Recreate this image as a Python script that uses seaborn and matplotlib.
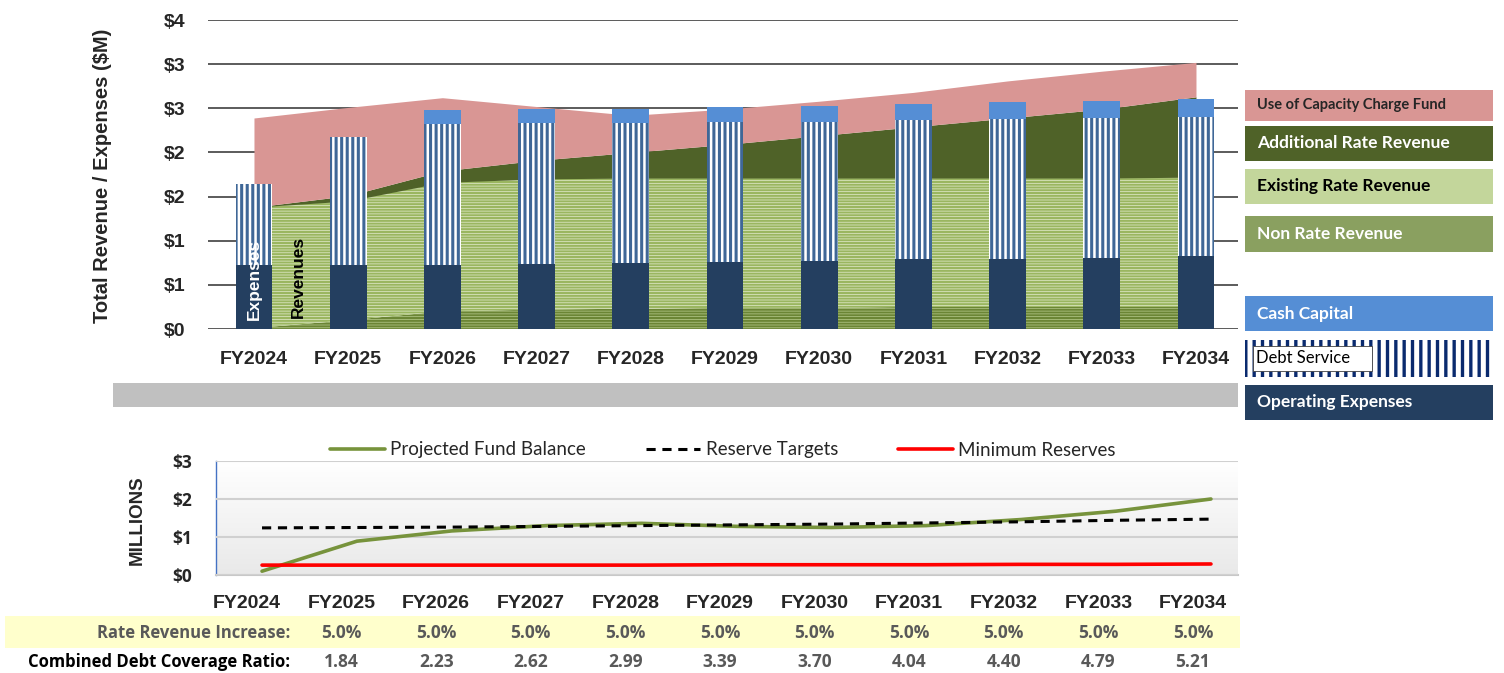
import numpy as np
import matplotlib
matplotlib.use("Agg")
import matplotlib.pyplot as plt
import seaborn as sns
from matplotlib.patches import Rectangle
from matplotlib.colors import LinearSegmentedColormap
from matplotlib.ticker import FuncFormatter

years = ["FY2024", "FY2025", "FY2026", "FY2027", "FY2028", "FY2029",
         "FY2030", "FY2031", "FY2032", "FY2033", "FY2034"]

# revenues ($M), stacked bottom to top
non_rate_revenue = [0.01, 0.10, 0.20, 0.22, 0.23, 0.24, 0.24, 0.25, 0.25, 0.25, 0.25]
existing_rate_revenue = [1.37, 1.35, 1.46, 1.48, 1.48, 1.47, 1.47, 1.46, 1.46, 1.46, 1.47]
additional_rate_revenue = [0.00, 0.06, 0.13, 0.21, 0.29, 0.38, 0.48, 0.58, 0.68, 0.78, 0.91]
capacity_charge_fund = [1.01, 1.00, 0.83, 0.61, 0.42, 0.40, 0.39, 0.39, 0.42, 0.43, 0.39]

# expenses ($M)
operating_expenses = [0.72, 0.73, 0.73, 0.74, 0.75, 0.76, 0.77, 0.79, 0.79, 0.80, 0.83]
debt_service = [0.92, 1.45, 1.59, 1.59, 1.58, 1.58, 1.58, 1.58, 1.59, 1.59, 1.57]
cash_capital = [0.00, 0.00, 0.16, 0.16, 0.16, 0.17, 0.18, 0.18, 0.19, 0.19, 0.20]

# fund balance chart ($M)
fund_balance = [0.10, 0.89, 1.16, 1.30, 1.36, 1.28, 1.25, 1.30, 1.46, 1.68, 2.00]
reserve_targets = [1.24, 1.25, 1.26, 1.28, 1.30, 1.32, 1.34, 1.37, 1.40, 1.44, 1.47]
minimum_reserves = [0.26, 0.26, 0.26, 0.26, 0.26, 0.27, 0.27, 0.27, 0.28, 0.28, 0.29]

rate_increase = ["5.0%", "5.0%", "5.0%", "5.0%", "5.0%", "5.0%", "5.0%", "5.0%", "5.0%", "5.0%"]
coverage_ratio = ["1.84", "2.23", "2.62", "2.99", "3.39", "3.70", "4.04", "4.40", "4.79", "5.21"]

W, H = 1504, 673
sns.set_theme(style="white")
plt.rcParams["font.family"] = ["Liberation Sans", "DejaVu Sans"]
TABLE_FONT = ["Open Sans", "DejaVu Sans"]
BOX_FONT = ["Lato", "DejaVu Sans"]

fig = plt.figure(figsize=(W / 100, H / 100), dpi=100)


def fx(px):
    return px / W


def fy(py):
    return 1 - py / H


# ---------------- top chart ----------------
ax = fig.add_axes([fx(208), fy(329), fx(1238 - 208), (329 - 20) / H])
idx = np.arange(len(years))

lvl1 = np.array(non_rate_revenue)
lvl2 = lvl1 + np.array(existing_rate_revenue)
lvl3 = lvl2 + np.array(additional_rate_revenue)
lvl4 = lvl3 + np.array(capacity_charge_fund)

with plt.rc_context({"hatch.linewidth": 1.5}):
    ax.fill_between(idx, 0, lvl1, facecolor="#b9cd8f", edgecolor="#6b8535",
                    hatch="------", linewidth=0, zorder=1)
    ax.fill_between(idx, lvl1, lvl2, facecolor="#e4ecd0", edgecolor="#9ab660",
                    hatch="------", linewidth=0, zorder=1)
ax.fill_between(idx, lvl2, lvl3, color="#4f6228", linewidth=0, zorder=1)
ax.fill_between(idx, lvl3, lvl4, color="#d99694", linewidth=0, zorder=1)

ops = np.array(operating_expenses)
debt_top = ops + np.array(debt_service)
cash_top = debt_top + np.array(cash_capital)

sns.barplot(x=years, y=cash_top, color="#558ed5", saturation=1, width=0.39,
            linewidth=0, ax=ax, zorder=2)
with plt.rc_context({"hatch.linewidth": 2.2}):
    sns.barplot(x=years, y=debt_top, color="white", saturation=1, width=0.39,
                linewidth=0, ax=ax, zorder=2)
    for p in ax.containers[-1]:
        p.set_facecolor("white")
        p.set_edgecolor("#3f6797")
        p.set_hatch("|||")
        p.set_linewidth(0)
sns.barplot(x=years, y=ops, color="#243f60", saturation=1, width=0.39,
            linewidth=0, ax=ax, zorder=2)

ax.set_xlim(-0.488, 10.446)
ax.set_ylim(0, 3.5)
ax.set_yticks(np.arange(0, 3.51, 0.5))
ax.yaxis.set_major_formatter(FuncFormatter(lambda v, _: f"${int(v + 0.5)}"))
ax.set_axisbelow(True)
ax.yaxis.grid(True, color="#404040", linewidth=1.2)
ax.xaxis.grid(False)
for s in ax.spines.values():
    s.set_visible(False)
ax.tick_params(axis="y", length=0, pad=16, labelsize=14)
ax.tick_params(axis="x", length=0, pad=16, labelsize=14)
for t in ax.get_yticklabels() + ax.get_xticklabels():
    t.set_fontweight("bold")
ax.set_xlabel("")
ax.set_ylabel("")

ax.text(0, 0.1, "Expenses", rotation=90, color="white", fontsize=12.5,
        fontweight="bold", ha="center", va="bottom", zorder=5)
ax.text(0.47, 0.12, "Revenues", rotation=90, color="black", fontsize=12.5,
        fontweight="bold", ha="center", va="bottom", zorder=5)

fig.text(fx(103), fy(176), "Total Revenue / Expenses ($M)", rotation=90,
         fontsize=14.5, fontweight="bold", ha="center", va="center")

# legend boxes on the right
legend_boxes = [
    ("Use of Capacity Charge Fund", 90, 121, "#d99694", "#262626", 10.5),
    ("Additional Rate Revenue", 126, 161, "#4f6228", "white", 12.5),
    ("Existing Rate Revenue", 169, 204, "#c3d69b", "black", 12.5),
    ("Non Rate Revenue", 216, 252, "#8aa060", "white", 12.5),
    ("Cash Capital", 296, 331, "#558ed5", "white", 12.5),
    ("Operating Expenses", 385, 420, "#243f60", "white", 12.5),
]
for label, y0, y1, fc, tc, fs in legend_boxes:
    fig.patches.append(Rectangle((fx(1245), fy(y1)), fx(248), (y1 - y0) / H,
                                 transform=fig.transFigure, facecolor=fc,
                                 linewidth=0))
    fig.text(fx(1257), fy((y0 + y1) / 2), label, color=tc, fontsize=fs,
             fontweight="bold", family=BOX_FONT, ha="left", va="center")

with plt.rc_context({"hatch.linewidth": 2.4}):
    fig.patches.append(Rectangle((fx(1245), fy(377)), fx(248), 37 / H,
                                 transform=fig.transFigure, facecolor="white",
                                 edgecolor="#0a2a6e", hatch="||", linewidth=0))
fig.patches.append(Rectangle((fx(1253), fy(371)), fx(119), 25 / H,
                             transform=fig.transFigure, facecolor="white",
                             edgecolor="#404040", linewidth=0.6))
fig.text(fx(1256), fy(358), "Debt Service", color="black", fontsize=12,
         family=BOX_FONT, ha="left", va="center")

# grey divider bar
fig.patches.append(Rectangle((fx(113), fy(407)), fx(1238 - 113), 24 / H,
                             transform=fig.transFigure, facecolor="#c0c0c0",
                             linewidth=0))

# ---------------- bottom chart ----------------
bx = fig.add_axes([fx(216), fy(575), fx(1238 - 216), (575 - 461) / H])
bx.set_xlim(-0.485, 10.285)
bx.set_ylim(0, 3)
grad = LinearSegmentedColormap.from_list("bg", ["#ffffff", "#e9e9e9"])
bx.imshow(np.linspace(0, 1, 200).reshape(-1, 1), cmap=grad, aspect="auto",
          extent=[-0.485, 10.285, 0, 3], origin="upper", zorder=0)

sns.lineplot(x=idx, y=fund_balance, color="#77933c", linewidth=2.6,
             label="Projected Fund Balance", ax=bx, zorder=3)
sns.lineplot(x=idx, y=reserve_targets, color="black", linewidth=2.2,
             dashes=False, linestyle=(0, (3, 2.2)), label="Reserve Targets",
             ax=bx, zorder=3)
sns.lineplot(x=idx, y=minimum_reserves, color="#ff0000", linewidth=2.6,
             label="Minimum Reserves", ax=bx, zorder=3)
handles, labels = bx.get_legend_handles_labels()
bx.get_legend().remove()
fig.legend(handles, labels, loc="center", bbox_to_anchor=(fx(723), fy(450)),
           ncol=3, frameon=False, handlelength=2.9, handletextpad=0.3,
           columnspacing=3.2, prop={"family": BOX_FONT, "size": 13.5})

bx.set_xlim(-0.485, 10.285)
bx.set_ylim(0, 3)
bx.set_yticks([0, 1, 2, 3])
bx.yaxis.set_major_formatter(FuncFormatter(lambda v, _: f"${int(v)}"))
bx.set_xticks([])
bx.yaxis.grid(True, color="#d0d0d0", linewidth=1.5, zorder=1)
bx.set_axisbelow(False)
for s in ["top", "right"]:
    bx.spines[s].set_visible(False)
bx.spines["left"].set_color("#4472c4")
bx.spines["left"].set_linewidth(1.0)
bx.spines["bottom"].set_color("#c8c8c8")
bx.spines["bottom"].set_linewidth(1.5)
bx.tick_params(axis="y", length=0, pad=17, labelsize=12.5)
for t in bx.get_yticklabels():
    t.set_fontweight("bold")
    t.set_family(TABLE_FONT)
bx.set_xlabel("")
bx.set_ylabel("")

fig.text(fx(137), fy(520), "MILLIONS", rotation=90, fontsize=13.5,
         fontweight="bold", ha="center", va="center")

# ---------------- table under the chart ----------------
col_x = [247 + 94.6 * i for i in range(len(years))]
for x, yr in zip(col_x, years):
    fig.text(fx(x), fy(603), yr, fontsize=14, fontweight="bold",
             ha="center", va="center")

fig.patches.append(Rectangle((fx(5), fy(648)), fx(1240 - 5), 32 / H,
                             transform=fig.transFigure, facecolor="#ffffcc",
                             linewidth=0))
fig.text(fx(290), fy(633), "Rate Revenue Increase:", color="#595959",
         fontsize=12, fontweight="bold", family=TABLE_FONT,
         ha="right", va="center")
fig.text(fx(290), fy(662), "Combined Debt Coverage Ratio:", color="black",
         fontsize=12, fontweight="bold", family=TABLE_FONT,
         ha="right", va="center")
for x, v in zip(col_x[1:], rate_increase):
    fig.text(fx(x), fy(633), v, color="#595959", fontsize=12.5, fontweight="bold",
             family=TABLE_FONT, ha="center", va="center")
for x, v in zip(col_x[1:], coverage_ratio):
    fig.text(fx(x), fy(662), v, color="#595959", fontsize=12.5, fontweight="bold",
             family=TABLE_FONT, ha="center", va="center")

fig.savefig("out.png", dpi=100)
